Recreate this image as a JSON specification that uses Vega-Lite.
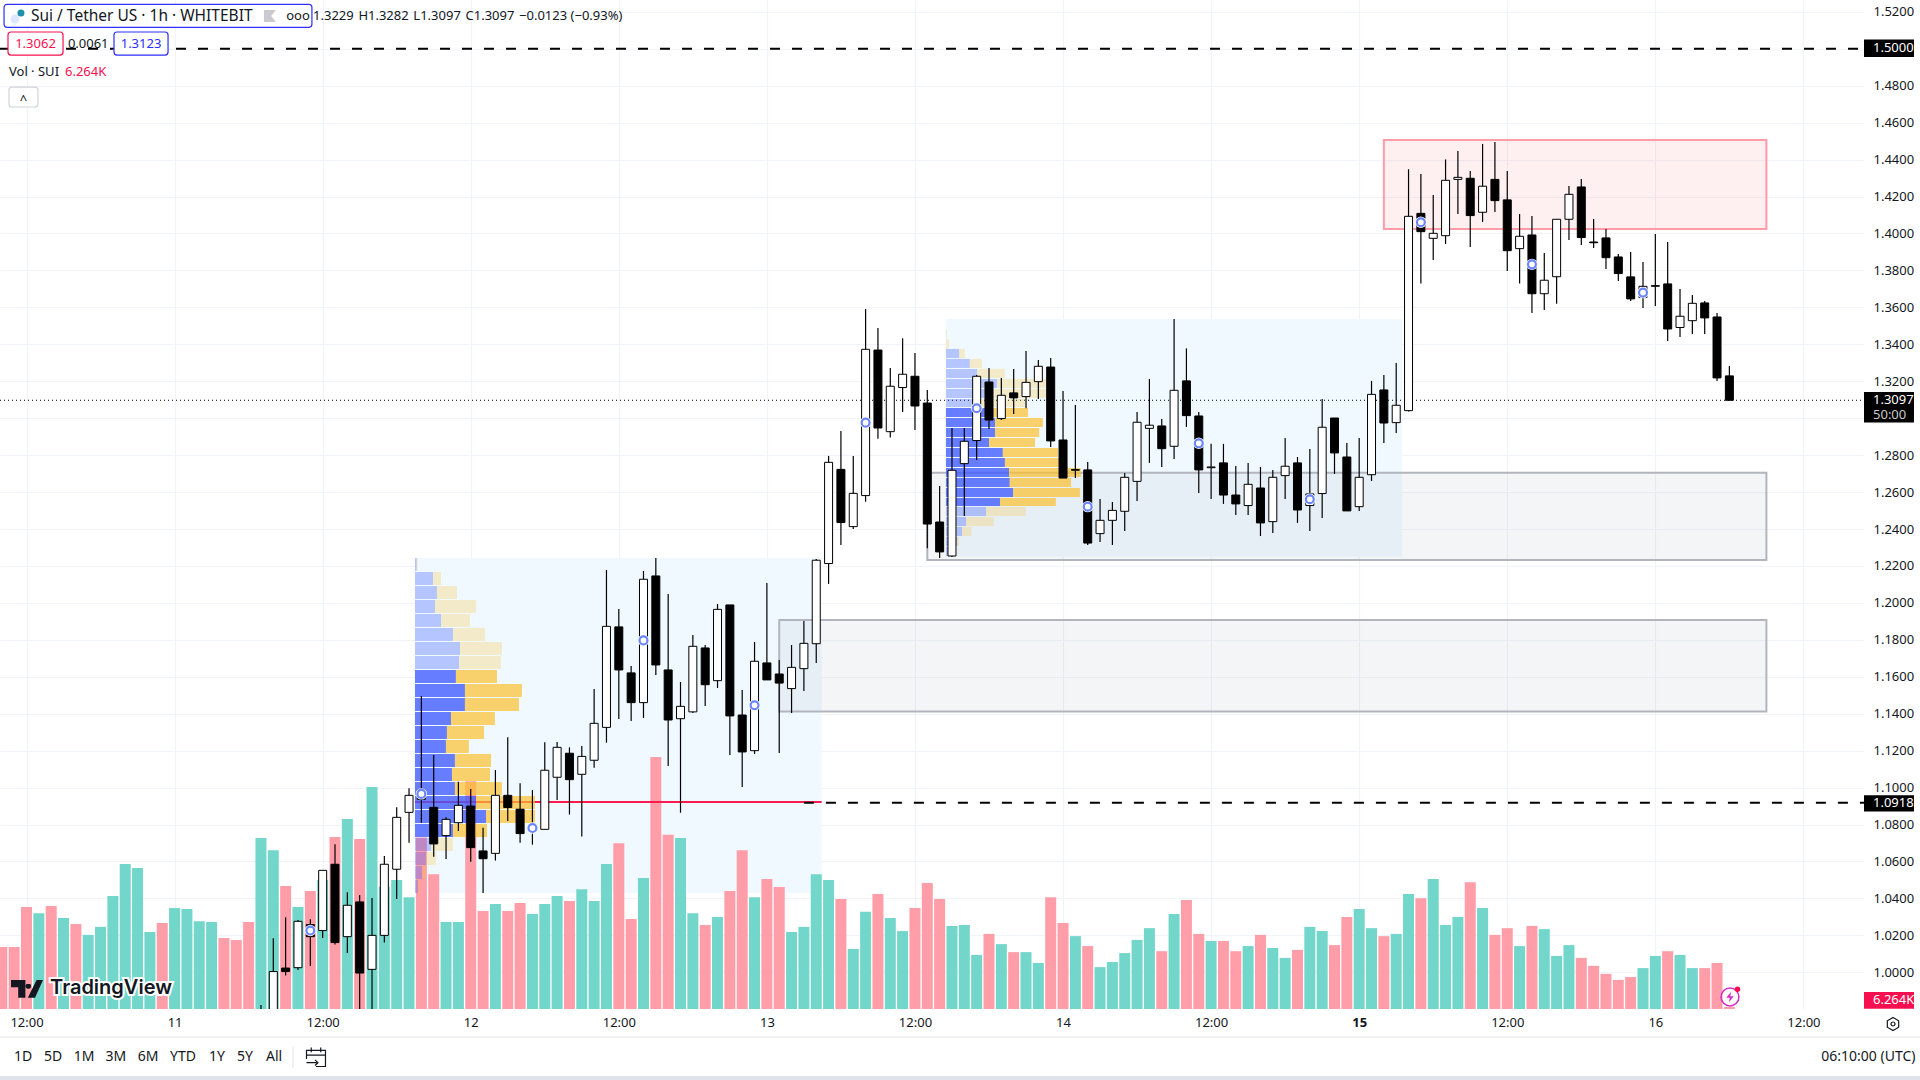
{
  "$schema": "https://vega.github.io/schema/vega-lite/v6.json",
  "width": 1864,
  "height": 1009,
  "autosize": {"type": "none"},
  "padding": {"left": 0, "top": 0, "right": 56, "bottom": 71},
  "background": "#ffffff",
  "config": {
    "view": {"stroke": null},
    "font": "Noto Sans",
    "text": {"font": "Noto Sans"},
    "axis": {"labelFont": "Noto Sans", "labelColor": "#131722", "labelFontSize": 13, "title": null, "domain": false, "ticks": false, "gridColor": "#f0f3fa", "gridWidth": 1.2}
  },
  "datasets": {
    "candles": [
      {"hour":10,"volume":194,"side":"down"},{"hour":11,"volume":194,"side":"down"},{"hour":12,"volume":319,"side":"down"},{"hour":13,"volume":300,"side":"up"},{"hour":14,"volume":322,"side":"down"},{"hour":15,"volume":285,"side":"up"},{"hour":16,"volume":266,"side":"down"},{"hour":17,"volume":232,"side":"up"},{"hour":18,"volume":257,"side":"up"},{"hour":19,"volume":354,"side":"up"},{"hour":20,"volume":454,"side":"up"},{"hour":21,"volume":441,"side":"up"},{"hour":22,"volume":241,"side":"up"},{"hour":23,"volume":269,"side":"down"},{"hour":24,"volume":316,"side":"up"},{"hour":25,"volume":313,"side":"up"},{"hour":26,"volume":275,"side":"up"},{"hour":27,"volume":272,"side":"up"},{"hour":28,"volume":222,"side":"down"},{"hour":29,"volume":216,"side":"down"},{"hour":30,"volume":272,"side":"down"},
      {"hour":31,"volume":535,"side":"up","open":0.96,"high":0.9823,"low":0.95,"close":0.975},
      {"hour":32,"volume":497,"side":"up","open":0.975,"high":1.0184,"low":0.97,"close":1.0004},
      {"hour":33,"volume":385,"side":"down","open":1.0023,"high":1.0298,"low":0.9982,"close":1.0004},
      {"hour":34,"volume":319,"side":"up","open":1.0025,"high":1.0283,"low":1.0013,"close":1.0276},
      {"hour":35,"volume":369,"side":"down","open":1.0258,"high":1.0287,"low":1.0034,"close":1.0193},
      {"hour":36,"volume":404,"side":"up","open":1.0226,"high":1.0552,"low":1.0186,"close":1.0552},
      {"hour":37,"volume":538,"side":"down","open":1.0585,"high":1.0693,"low":1.015,"close":1.0161},
      {"hour":38,"volume":595,"side":"up","open":1.0193,"high":1.0433,"low":1.0105,"close":1.0363},
      {"hour":39,"volume":532,"side":"down","open":1.0381,"high":1.0419,"low":0.975,"close":0.9996},
      {"hour":40,"volume":695,"side":"up","open":1.0016,"high":1.0402,"low":0.975,"close":1.02},
      {"hour":41,"volume":383,"side":"up","open":1.02,"high":1.063,"low":1.0161,"close":1.0585},
      {"hour":42,"volume":404,"side":"up","open":1.0558,"high":1.0893,"low":1.0397,"close":1.0839},
      {"hour":43,"volume":350,"side":"up","open":1.0866,"high":1.0996,"low":1.0702,"close":1.0958},
      {"hour":44,"volume":537,"side":"down","open":1.0987,"high":1.1496,"low":1.081,"close":1.0937},
      {"hour":45,"volume":422,"side":"down","open":1.0893,"high":1.1177,"low":1.0626,"close":1.0695},
      {"hour":46,"volume":272,"side":"up","open":1.074,"high":1.0839,"low":1.0614,"close":1.0828},
      {"hour":47,"volume":272,"side":"up","open":1.081,"high":1.1032,"low":1.0765,"close":1.0904},
      {"hour":48,"volume":713,"side":"down","open":1.09,"high":1.0993,"low":1.0599,"close":1.0675},
      {"hour":49,"volume":307,"side":"down","open":1.0657,"high":1.0783,"low":1.043,"close":1.0615},
      {"hour":50,"volume":329,"side":"up","open":1.0644,"high":1.1095,"low":1.0605,"close":1.0958},
      {"hour":51,"volume":307,"side":"down","open":1.0958,"high":1.1272,"low":1.0819,"close":1.0892},
      {"hour":52,"volume":332,"side":"down","open":1.0883,"high":1.1023,"low":1.0702,"close":1.0751},
      {"hour":53,"volume":297,"side":"up","open":1.0765,"high":1.0987,"low":1.0691,"close":1.0798},
      {"hour":54,"volume":329,"side":"up","open":1.0774,"high":1.1245,"low":1.0774,"close":1.1094},
      {"hour":55,"volume":354,"side":"up","open":1.1056,"high":1.1247,"low":1.0933,"close":1.1218},
      {"hour":56,"volume":338,"side":"down","open":1.1186,"high":1.1218,"low":1.0854,"close":1.1043},
      {"hour":57,"volume":375,"side":"up","open":1.1072,"high":1.1225,"low":1.0735,"close":1.1169},
      {"hour":58,"volume":338,"side":"up","open":1.1148,"high":1.1534,"low":1.1108,"close":1.1348},
      {"hour":59,"volume":454,"side":"up","open":1.1326,"high":1.2178,"low":1.1243,"close":1.1873},
      {"hour":60,"volume":519,"side":"down","open":1.187,"high":1.1967,"low":1.1372,"close":1.1637},
      {"hour":61,"volume":282,"side":"down","open":1.1621,"high":1.1659,"low":1.1361,"close":1.146},
      {"hour":62,"volume":410,"side":"up","open":1.146,"high":1.2173,"low":1.1377,"close":1.2128},
      {"hour":63,"volume":789,"side":"down","open":1.2146,"high":1.2243,"low":1.161,"close":1.1664},
      {"hour":64,"volume":545,"side":"down","open":1.1637,"high":1.2048,"low":1.1117,"close":1.1366},
      {"hour":65,"volume":535,"side":"up","open":1.1373,"high":1.1572,"low":1.0864,"close":1.144},
      {"hour":66,"volume":300,"side":"up","open":1.141,"high":1.1826,"low":1.1404,"close":1.1765},
      {"hour":67,"volume":263,"side":"down","open":1.1756,"high":1.1772,"low":1.1442,"close":1.1557},
      {"hour":68,"volume":288,"side":"up","open":1.1579,"high":1.1994,"low":1.1539,"close":1.1965},
      {"hour":69,"volume":369,"side":"down","open":1.1989,"high":1.1989,"low":1.1177,"close":1.1388},
      {"hour":70,"volume":497,"side":"down","open":1.1393,"high":1.1529,"low":1.1003,"close":1.1193},
      {"hour":71,"volume":350,"side":"up","open":1.12,"high":1.1788,"low":1.1182,"close":1.1684},
      {"hour":72,"volume":407,"side":"down","open":1.1675,"high":1.2108,"low":1.1583,"close":1.1583},
      {"hour":73,"volume":382,"side":"down","open":1.1615,"high":1.1691,"low":1.1187,"close":1.1566},
      {"hour":74,"volume":241,"side":"up","open":1.1536,"high":1.1772,"low":1.1404,"close":1.1651},
      {"hour":75,"volume":257,"side":"up","open":1.1644,"high":1.1902,"low":1.1523,"close":1.1781},
      {"hour":76,"volume":422,"side":"up","open":1.1779,"high":1.2238,"low":1.1675,"close":1.2231},
      {"hour":77,"volume":404,"side":"up","open":1.2213,"high":1.2796,"low":1.2103,"close":1.2761},
      {"hour":78,"volume":344,"side":"down","open":1.2723,"high":1.2931,"low":1.2314,"close":1.2435},
      {"hour":79,"volume":188,"side":"up","open":1.2413,"high":1.2796,"low":1.24,"close":1.2593},
      {"hour":80,"volume":304,"side":"up","open":1.2581,"high":1.3591,"low":1.2548,"close":1.3373},
      {"hour":81,"volume":360,"side":"down","open":1.3369,"high":1.3489,"low":1.2889,"close":1.2947},
      {"hour":82,"volume":285,"side":"up","open":1.2927,"high":1.3272,"low":1.2895,"close":1.3173},
      {"hour":83,"volume":244,"side":"up","open":1.3166,"high":1.3433,"low":1.3034,"close":1.3238},
      {"hour":84,"volume":316,"side":"down","open":1.3227,"high":1.3353,"low":1.2936,"close":1.3066},
      {"hour":85,"volume":394,"side":"down","open":1.3082,"high":1.3153,"low":1.2296,"close":1.2427},
      {"hour":86,"volume":344,"side":"down","open":1.2438,"high":1.2633,"low":1.2243,"close":1.2276},
      {"hour":87,"volume":260,"side":"up","open":1.2254,"high":1.2947,"low":1.2249,"close":1.2718},
      {"hour":88,"volume":263,"side":"up","open":1.2754,"high":1.2947,"low":1.2471,"close":1.2875},
      {"hour":89,"volume":169,"side":"up","open":1.2879,"high":1.3234,"low":1.2774,"close":1.3227},
      {"hour":90,"volume":235,"side":"down","open":1.3196,"high":1.3272,"low":1.2942,"close":1.299},
      {"hour":91,"volume":203,"side":"up","open":1.2998,"high":1.3218,"low":1.299,"close":1.3124},
      {"hour":92,"volume":178,"side":"down","open":1.3137,"high":1.3267,"low":1.3023,"close":1.311},
      {"hour":93,"volume":178,"side":"up","open":1.3117,"high":1.3364,"low":1.3054,"close":1.3194},
      {"hour":94,"volume":144,"side":"up","open":1.3198,"high":1.3315,"low":1.3104,"close":1.3281},
      {"hour":95,"volume":350,"side":"down","open":1.3277,"high":1.3326,"low":1.2844,"close":1.2877},
      {"hour":96,"volume":269,"side":"down","open":1.2882,"high":1.3147,"low":1.2676,"close":1.2676},
      {"hour":97,"volume":228,"side":"up","open":1.2718,"high":1.3072,"low":1.2676,"close":1.2722},
      {"hour":98,"volume":197,"side":"down","open":1.272,"high":1.2763,"low":1.2314,"close":1.2324},
      {"hour":99,"volume":131,"side":"up","open":1.2375,"high":1.2563,"low":1.233,"close":1.2447},
      {"hour":100,"volume":147,"side":"up","open":1.2447,"high":1.2546,"low":1.2314,"close":1.2501},
      {"hour":101,"volume":175,"side":"up","open":1.2496,"high":1.2703,"low":1.2389,"close":1.268},
      {"hour":102,"volume":216,"side":"up","open":1.2658,"high":1.3034,"low":1.2552,"close":1.2978},
      {"hour":103,"volume":253,"side":"up","open":1.2945,"high":1.3212,"low":1.2758,"close":1.2962},
      {"hour":104,"volume":181,"side":"down","open":1.2958,"high":1.2996,"low":1.2736,"close":1.2835},
      {"hour":105,"volume":297,"side":"up","open":1.2848,"high":1.3537,"low":1.2779,"close":1.3151},
      {"hour":106,"volume":341,"side":"down","open":1.3202,"high":1.3378,"low":1.2953,"close":1.3014},
      {"hour":107,"volume":235,"side":"down","open":1.3012,"high":1.3034,"low":1.2595,"close":1.272},
      {"hour":108,"volume":213,"side":"up","open":1.2732,"high":1.2861,"low":1.2563,"close":1.2736},
      {"hour":109,"volume":213,"side":"down","open":1.2758,"high":1.2861,"low":1.2536,"close":1.2584},
      {"hour":110,"volume":181,"side":"down","open":1.2584,"high":1.2741,"low":1.2476,"close":1.2536},
      {"hour":111,"volume":197,"side":"up","open":1.2527,"high":1.2758,"low":1.2476,"close":1.2642},
      {"hour":112,"volume":232,"side":"down","open":1.2622,"high":1.2736,"low":1.2362,"close":1.2433},
      {"hour":113,"volume":191,"side":"up","open":1.244,"high":1.272,"low":1.2379,"close":1.268},
      {"hour":114,"volume":160,"side":"up","open":1.2689,"high":1.2893,"low":1.2563,"close":1.274},
      {"hour":115,"volume":185,"side":"down","open":1.2758,"high":1.279,"low":1.2433,"close":1.2503},
      {"hour":116,"volume":257,"side":"up","open":1.2527,"high":1.2833,"low":1.2389,"close":1.259},
      {"hour":117,"volume":244,"side":"up","open":1.2592,"high":1.3104,"low":1.246,"close":1.2951},
      {"hour":118,"volume":200,"side":"down","open":1.3001,"high":1.3001,"low":1.2698,"close":1.2812},
      {"hour":119,"volume":288,"side":"down","open":1.279,"high":1.2866,"low":1.2498,"close":1.2498},
      {"hour":120,"volume":313,"side":"up","open":1.2521,"high":1.2893,"low":1.2498,"close":1.268},
      {"hour":121,"volume":253,"side":"up","open":1.2694,"high":1.3202,"low":1.266,"close":1.3129},
      {"hour":122,"volume":228,"side":"down","open":1.3153,"high":1.3234,"low":1.2866,"close":1.2974},
      {"hour":123,"volume":235,"side":"up","open":1.2976,"high":1.3299,"low":1.292,"close":1.307},
      {"hour":124,"volume":360,"side":"up","open":1.3041,"high":1.4348,"low":1.3036,"close":1.4093},
      {"hour":125,"volume":347,"side":"down","open":1.4109,"high":1.4322,"low":1.3729,"close":1.401},
      {"hour":126,"volume":407,"side":"up","open":1.3974,"high":1.4209,"low":1.3857,"close":1.4001},
      {"hour":127,"volume":263,"side":"up","open":1.3988,"high":1.4401,"low":1.3943,"close":1.4288},
      {"hour":128,"volume":288,"side":"up","open":1.4293,"high":1.4447,"low":1.4106,"close":1.4304},
      {"hour":129,"volume":397,"side":"down","open":1.4299,"high":1.4338,"low":1.3927,"close":1.4097},
      {"hour":130,"volume":316,"side":"up","open":1.4115,"high":1.4485,"low":1.4062,"close":1.4256},
      {"hour":131,"volume":232,"side":"down","open":1.4293,"high":1.4496,"low":1.4117,"close":1.4178},
      {"hour":132,"volume":253,"side":"down","open":1.4182,"high":1.4338,"low":1.3797,"close":1.3907},
      {"hour":133,"volume":197,"side":"up","open":1.3918,"high":1.4106,"low":1.3729,"close":1.3985},
      {"hour":134,"volume":260,"side":"down","open":1.3992,"high":1.4095,"low":1.357,"close":1.3674},
      {"hour":135,"volume":250,"side":"up","open":1.3674,"high":1.3895,"low":1.3586,"close":1.3747},
      {"hour":136,"volume":166,"side":"up","open":1.3766,"high":1.4077,"low":1.3619,"close":1.4077},
      {"hour":137,"volume":200,"side":"up","open":1.4077,"high":1.4257,"low":1.3965,"close":1.4212},
      {"hour":138,"volume":160,"side":"down","open":1.4252,"high":1.4295,"low":1.3938,"close":1.3978},
      {"hour":139,"volume":135,"side":"down","open":1.3954,"high":1.4079,"low":1.3922,"close":1.395},
      {"hour":140,"volume":110,"side":"down","open":1.3976,"high":1.4025,"low":1.3808,"close":1.3869},
      {"hour":141,"volume":91,"side":"down","open":1.3873,"high":1.3889,"low":1.3743,"close":1.3783},
      {"hour":142,"volume":100,"side":"down","open":1.3765,"high":1.39,"low":1.3635,"close":1.3646},
      {"hour":143,"volume":128,"side":"up","open":1.3653,"high":1.3846,"low":1.3597,"close":1.3714},
      {"hour":144,"volume":166,"side":"up","open":1.3714,"high":1.3997,"low":1.3607,"close":1.3718},
      {"hour":145,"volume":181,"side":"down","open":1.3727,"high":1.3954,"low":1.3418,"close":1.3483},
      {"hour":146,"volume":169,"side":"up","open":1.3491,"high":1.37,"low":1.344,"close":1.3552},
      {"hour":147,"volume":128,"side":"up","open":1.3528,"high":1.3667,"low":1.3456,"close":1.3622},
      {"hour":148,"volume":128,"side":"down","open":1.3624,"high":1.3635,"low":1.3456,"close":1.3543},
      {"hour":149,"volume":144,"side":"down","open":1.3548,"high":1.357,"low":1.3202,"close":1.3218},
      {"hour":150,"volume":6.264,"side":"down","open":1.3229,"high":1.3282,"low":1.3097,"close":1.3097}
    ],
    "profile": [
      {"hour":43.48,"upEnd":43.62,"downEnd":43.7,"price":1.2173,"priceEnd":1.2243,"area":"out"},
      {"hour":43.48,"upEnd":44.94,"downEnd":45.59,"price":1.2097,"priceEnd":1.2167,"area":"out"},
      {"hour":43.48,"upEnd":45.26,"downEnd":46.88,"price":1.2021,"priceEnd":1.2091,"area":"out"},
      {"hour":43.48,"upEnd":45.1,"downEnd":48.43,"price":1.1945,"priceEnd":1.2016,"area":"out"},
      {"hour":43.48,"upEnd":45.59,"downEnd":47.94,"price":1.187,"priceEnd":1.194,"area":"out"},
      {"hour":43.48,"upEnd":46.56,"downEnd":49.16,"price":1.1794,"priceEnd":1.1864,"area":"out"},
      {"hour":43.48,"upEnd":47.13,"downEnd":50.53,"price":1.1718,"priceEnd":1.1788,"area":"out"},
      {"hour":43.48,"upEnd":47.05,"downEnd":50.45,"price":1.1642,"priceEnd":1.1712,"area":"out"},
      {"hour":43.48,"upEnd":46.8,"downEnd":50.13,"price":1.1566,"priceEnd":1.1637,"area":"in"},
      {"hour":43.48,"upEnd":47.53,"downEnd":52.15,"price":1.1491,"priceEnd":1.1561,"area":"in"},
      {"hour":43.48,"upEnd":47.53,"downEnd":51.91,"price":1.1415,"priceEnd":1.1485,"area":"in"},
      {"hour":43.48,"upEnd":46.4,"downEnd":49.96,"price":1.1339,"priceEnd":1.1409,"area":"in"},
      {"hour":43.48,"upEnd":46.07,"downEnd":49.08,"price":1.1263,"priceEnd":1.1333,"area":"in"},
      {"hour":43.48,"upEnd":45.99,"downEnd":47.85,"price":1.1187,"priceEnd":1.1258,"area":"in"},
      {"hour":43.48,"upEnd":46.72,"downEnd":49.64,"price":1.1112,"priceEnd":1.1182,"area":"in"},
      {"hour":43.48,"upEnd":46.48,"downEnd":49.56,"price":1.1036,"priceEnd":1.1106,"area":"in"},
      {"hour":43.48,"upEnd":46.72,"downEnd":50.53,"price":1.096,"priceEnd":1.103,"area":"in"},
      {"hour":43.48,"upEnd":48.43,"downEnd":53.21,"price":1.0884,"priceEnd":1.0954,"area":"in"},
      {"hour":43.48,"upEnd":49.24,"downEnd":53.21,"price":1.0808,"priceEnd":1.0879,"area":"in"},
      {"hour":43.48,"upEnd":46.56,"downEnd":49.32,"price":1.0733,"priceEnd":1.0803,"area":"in"},
      {"hour":43.48,"upEnd":44.78,"downEnd":46.56,"price":1.0657,"priceEnd":1.0727,"area":"out"},
      {"hour":43.48,"upEnd":44.37,"downEnd":45.18,"price":1.0581,"priceEnd":1.0651,"area":"out"},
      {"hour":43.48,"upEnd":44.05,"downEnd":44.37,"price":1.0505,"priceEnd":1.0575,"area":"out"},
      {"hour":43.48,"upEnd":43.72,"downEnd":43.88,"price":1.0429,"priceEnd":1.05,"area":"out"},
      {"hour":86.51,"upEnd":86.52,"downEnd":86.59,"price":1.3433,"priceEnd":1.3481,"area":"out"},
      {"hour":86.51,"upEnd":86.52,"downEnd":86.75,"price":1.3378,"priceEnd":1.3427,"area":"out"},
      {"hour":86.51,"upEnd":87.58,"downEnd":88.04,"price":1.3326,"priceEnd":1.3375,"area":"out"},
      {"hour":86.51,"upEnd":88.44,"downEnd":89.43,"price":1.3272,"priceEnd":1.3321,"area":"out"},
      {"hour":86.51,"upEnd":89.04,"downEnd":91.29,"price":1.3218,"priceEnd":1.3267,"area":"out"},
      {"hour":86.51,"upEnd":90.66,"downEnd":94.66,"price":1.3164,"priceEnd":1.3212,"area":"out"},
      {"hour":86.51,"upEnd":90.23,"downEnd":94.66,"price":1.311,"priceEnd":1.3158,"area":"out"},
      {"hour":86.51,"upEnd":89.24,"downEnd":92.97,"price":1.306,"priceEnd":1.3104,"area":"out"},
      {"hour":86.51,"upEnd":90.36,"downEnd":93.17,"price":1.3007,"priceEnd":1.3055,"area":"in"},
      {"hour":86.51,"upEnd":90.49,"downEnd":94.36,"price":1.2953,"priceEnd":1.3001,"area":"in"},
      {"hour":86.51,"upEnd":90.49,"downEnd":94.07,"price":1.2898,"priceEnd":1.2947,"area":"in"},
      {"hour":86.51,"upEnd":90,"downEnd":93.73,"price":1.2844,"priceEnd":1.2893,"area":"in"},
      {"hour":86.51,"upEnd":91.12,"downEnd":95.59,"price":1.279,"priceEnd":1.2839,"area":"in"},
      {"hour":86.51,"upEnd":91.29,"downEnd":95.72,"price":1.2736,"priceEnd":1.2785,"area":"in"},
      {"hour":86.51,"upEnd":91.62,"downEnd":97.44,"price":1.2682,"priceEnd":1.2731,"area":"in"},
      {"hour":86.51,"upEnd":91.68,"downEnd":96.65,"price":1.2628,"priceEnd":1.2676,"area":"in"},
      {"hour":86.51,"upEnd":91.95,"downEnd":97.37,"price":1.2574,"priceEnd":1.2622,"area":"in"},
      {"hour":86.51,"upEnd":90.89,"downEnd":95.42,"price":1.2525,"priceEnd":1.2568,"area":"in"},
      {"hour":86.51,"upEnd":89.76,"downEnd":92.97,"price":1.2471,"priceEnd":1.2519,"area":"out"},
      {"hour":86.51,"upEnd":88.14,"downEnd":90.39,"price":1.2416,"priceEnd":1.2465,"area":"out"},
      {"hour":86.51,"upEnd":87.81,"downEnd":88.57,"price":1.2362,"priceEnd":1.2411,"area":"out"},
      {"hour":86.51,"upEnd":87.42,"downEnd":87.58,"price":1.2308,"priceEnd":1.2357,"area":"out"},
      {"hour":86.51,"upEnd":86.92,"downEnd":86.99,"price":1.2254,"priceEnd":1.2303,"area":"out"}
    ],
    "signals": [
      {"hour":35,"price":1.0226},{"hour":44,"price":1.0966},{"hour":53,"price":1.0781},{"hour":62,"price":1.1797},{"hour":71,"price":1.1446},{"hour":80,"price":1.2976},{"hour":89,"price":1.3054},{"hour":98,"price":1.2521},{"hour":107,"price":1.2864},{"hour":116,"price":1.2561},{"hour":125,"price":1.4061},{"hour":134,"price":1.3833},{"hour":143,"price":1.368}
    ],
    "tagBoxes": [
      {"hour":160.91,"hourEnd":164.96,"price":1.4956,"priceEnd":1.5051,"tone":"black"},
      {"hour":160.91,"hourEnd":164.96,"price":1.087,"priceEnd":1.0958,"tone":"black"},
      {"hour":160.91,"hourEnd":164.96,"price":1.2977,"priceEnd":1.3142,"tone":"black"},
      {"hour":160.91,"hourEnd":164.96,"price":0.9803,"priceEnd":0.9893,"tone":"red"}
    ],
    "tagLabels": [
      {"hour":161.64,"price":1.5002,"label":"1.5000","tone":"white"},
      {"hour":161.64,"price":1.0915,"label":"1.0918","tone":"white"},
      {"hour":161.64,"price":1.3099,"label":"1.3097","tone":"white"},
      {"hour":161.64,"price":1.3017,"label":"50:00","tone":"grey"},
      {"hour":161.64,"price":0.9848,"label":"6.264K","tone":"white"},
      {"hour":35.22,"price":1.5178,"label":"1.3229 \u200aH1.3282 \u200aL1.3097 \u200aC1.3097 \u200a−0.0123 (−0.93%)","tone":"ink"},
      {"hour":10.58,"price":1.4874,"label":"Vol · SUI","tone":"ink"},
      {"hour":15.12,"price":1.4874,"label":"6.264K","tone":"red"}
    ],
    "headerBoxes": [
      {"hour":10.18,"hourEnd":35.13,"price":1.5116,"priceEnd":1.5241,"tone":"blue"},
      {"hour":10.5,"hourEnd":14.96,"price":1.4966,"priceEnd":1.5091,"tone":"red"},
      {"hour":19.09,"hourEnd":23.47,"price":1.4966,"priceEnd":1.5091,"tone":"blue"},
      {"hour":10.58,"hourEnd":12.93,"price":1.4685,"priceEnd":1.4793,"tone":"line"}
    ],
    "centerLabels": [
      {"hour":12.73,"price":1.5026,"label":"1.3062","tone":"red"},
      {"hour":17,"price":1.5026,"label":"0.0061","tone":"ink"},
      {"hour":21.28,"price":1.5026,"label":"1.3123","tone":"blue"},
      {"hour":11.76,"price":1.4725,"label":"^","tone":"ink"},
      {"hour":34,"price":1.5178,"label":"ooo","tone":"ink"}
    ],
    "toolbar": [
      {"hour":11.72,"price":0.95414,"label":"1D"},{"hour":14.15,"price":0.95414,"label":"5D"},{"hour":16.66,"price":0.95414,"label":"1M"},{"hour":19.25,"price":0.95414,"label":"3M"},{"hour":21.85,"price":0.95414,"label":"6M"},{"hour":24.68,"price":0.95414,"label":"YTD"},{"hour":27.44,"price":0.95414,"label":"1Y"},{"hour":29.71,"price":0.95414,"label":"5Y"},{"hour":32.06,"price":0.95414,"label":"All"}
    ]
  },
  "encoding": {
    "x": {
      "field": "hour",
      "type": "quantitative",
      "scale": {"domain": [9.852, 160.91], "nice": false, "zero": false, "padding": 0},
      "axis": {
        "values": [12,24,36,48,60,72,84,96,108,120,132,144,156],
        "labelExpr": "datum.value % 24 == 12 ? '12:00' : '' + (10 + datum.value / 24)",
        "labelFontWeight": {"condition": {"test": "datum.value == 120", "value": "bold"}, "value": "normal"},
        "labelPadding": 7,
        "labelOverlap": false,
        "labelBound": false,
        "labelFlush": false
      }
    }
  },
  "resolve": {"scale": {"y": "independent", "color": "independent", "fill": "independent", "stroke": "independent", "opacity": "independent"}},
  "layer": [
    {
      "resolve": {"scale": {"color": "independent", "fill": "independent", "stroke": "independent"}},
      "encoding": {
        "y": {
          "field": "price",
          "type": "quantitative",
          "scale": {"domain": [0.98013, 1.52642], "nice": false, "zero": false},
          "axis": {
            "orient": "right",
            "values": [1,1.02,1.04,1.06,1.08,1.1,1.12,1.14,1.16,1.18,1.2,1.22,1.24,1.26,1.28,1.3,1.32,1.34,1.36,1.38,1.4,1.42,1.44,1.46,1.48,1.5,1.52],
            "labelExpr": "datum.value == 1.3 || datum.value == 1.5 ? '' : format(datum.value, '.4f')",
            "labelPadding": 9,
            "labelOverlap": false,
            "labelBound": false
          }
        },
        "x2": {"field": "hourEnd"},
        "y2": {"field": "priceEnd"}
      },
      "layer": [
        {
          "data": {"values": [
            {"hour":43.48,"hourEnd":76.44,"price":1.0429,"priceEnd":1.2243},
            {"hour":86.51,"hourEnd":123.46,"price":1.225,"priceEnd":1.3537}
          ]},
          "mark": {"type": "rect", "color": "#f0f9ff"}
        },
        {
          "data": {"values": [
            {"hour":85,"hourEnd":153,"price":1.2232,"priceEnd":1.2705,"zone":"grey"},
            {"hour":73,"hourEnd":153,"price":1.1412,"priceEnd":1.1908,"zone":"grey"},
            {"hour":122,"hourEnd":153,"price":1.4024,"priceEnd":1.4506,"zone":"red"}
          ]},
          "mark": {"type": "rect", "strokeWidth": 2, "fillOpacity": 0.08},
          "encoding": {
            "fill": {"field": "zone", "type": "nominal", "scale": {"domain": ["grey","red"], "range": ["#787b86","#f23645"]}, "legend": null},
            "stroke": {"field": "zone", "type": "nominal", "scale": {"domain": ["grey","red"], "range": ["#b2b5be","#ff9ca8"]}, "legend": null}
          }
        }
      ]
    },
    {
      "data": {"name": "candles"},
      "mark": {"type": "bar", "width": 11, "orient": "vertical"},
      "encoding": {
        "y": {"field": "volume", "type": "quantitative", "stack": null, "scale": {"domain": [0, 3158], "nice": false}, "axis": null},
        "color": {"field": "side", "type": "nominal", "scale": {"domain": ["up","down"], "range": ["#72d6ca","#ff9da8"]}, "legend": null}
      }
    },
    {
      "resolve": {"scale": {"color": "independent", "fill": "independent", "stroke": "independent", "opacity": "independent"}},
      "encoding": {
        "y": {
          "field": "price",
          "type": "quantitative",
          "scale": {"domain": [0.98013, 1.52642], "nice": false, "zero": false},
          "axis": null
        }
      },
      "layer": [
        {
          "data": {"values": [{"hour":43.48,"hourEnd":76.44,"price":1.0922}]},
          "mark": {"type": "rule", "color": "#ff1a50", "strokeWidth": 2},
          "encoding": {"x2": {"field": "hourEnd"}}
        },
        {
          "data": {"values": [
            {"hour":75,"hourEnd":160.91,"price":1.0918},
            {"hour":9.852,"hourEnd":160.91,"price":1.5}
          ]},
          "mark": {"type": "rule", "color": "#000000", "strokeWidth": 2, "strokeDash": [10, 12]},
          "encoding": {"x2": {"field": "hourEnd"}}
        },
        {
          "data": {"values": [{"hour":9.852,"hourEnd":160.91,"price":1.3097}]},
          "mark": {"type": "rule", "color": "#000000", "strokeWidth": 1, "strokeDash": [1, 3]},
          "encoding": {"x2": {"field": "hourEnd"}}
        },
        {
          "data": {"name": "profile"},
          "mark": {"type": "rect", "color": "#3d5afe"},
          "encoding": {
            "x2": {"field": "upEnd"},
            "y2": {"field": "priceEnd"},
            "opacity": {"field": "area", "type": "nominal", "scale": {"domain": ["in","out"], "range": [0.78, 0.33]}, "legend": null}
          }
        },
        {
          "data": {"name": "profile"},
          "mark": {"type": "rect", "color": "#fbc02d"},
          "encoding": {
            "x": {"field": "upEnd", "type": "quantitative"},
            "x2": {"field": "downEnd"},
            "y2": {"field": "priceEnd"},
            "opacity": {"field": "area", "type": "nominal", "scale": {"domain": ["in","out"], "range": [0.7, 0.25]}, "legend": null}
          }
        },
        {
          "data": {"name": "candles"},
          "transform": [{"filter": "isValid(datum.open)"}],
          "mark": {"type": "rule", "color": "#000000", "strokeWidth": 1.2, "clip": true},
          "encoding": {"y": {"field": "low", "type": "quantitative"}, "y2": {"field": "high"}}
        },
        {
          "data": {"name": "candles"},
          "transform": [{"filter": "isValid(datum.open)"}],
          "mark": {"type": "bar", "width": 8, "orient": "vertical", "stroke": "#000000", "strokeWidth": 1, "clip": true},
          "encoding": {
            "y": {"field": "open", "type": "quantitative", "stack": null},
            "y2": {"field": "close"},
            "fill": {"field": "side", "type": "nominal", "scale": {"domain": ["up","down"], "range": ["#ffffff","#000000"]}, "legend": null}
          }
        },
        {
          "data": {"name": "signals"},
          "mark": {"type": "point", "shape": "circle", "filled": true, "color": "#ffffff", "size": 130, "opacity": 1}
        },
        {
          "data": {"name": "signals"},
          "mark": {"type": "point", "shape": "circle", "filled": false, "fill": "#ffffff", "stroke": "#6a85ff", "strokeWidth": 2.2, "size": 62, "opacity": 1}
        },
        {
          "data": {"name": "headerBoxes"},
          "mark": {"type": "rect", "fill": "#ffffff", "strokeWidth": 1.2, "cornerRadius": 3},
          "encoding": {
            "x2": {"field": "hourEnd"},
            "y2": {"field": "priceEnd"},
            "stroke": {"field": "tone", "type": "nominal", "scale": {"domain": ["blue","red","line"], "range": ["#2e2eff","#f7104f","#d1d4dc"]}, "legend": null}
          }
        },
        {
          "data": {"values": [{"hour":31.73,"price":1.5178}]},
          "mark": {"type": "point", "filled": true, "color": "#c9cbd0", "opacity": 1, "size": 144, "shape": "M-1,-1 H1 L0.2,0 L1,1 H-1 Z"}
        },
        {
          "data": {"values": [{"hour":11.07,"price":1.5161}]},
          "mark": {"type": "point", "shape": "circle", "filled": true, "color": "#dbe8ff", "opacity": 1, "size": 80}
        },
        {
          "data": {"values": [{"hour":11.55,"price":1.5194}]},
          "mark": {"type": "point", "shape": "circle", "filled": true, "color": "#1d8fa8", "opacity": 1, "size": 50}
        },
        {
          "data": {"name": "tagBoxes"},
          "mark": {"type": "rect", "opacity": 1},
          "encoding": {
            "x2": {"field": "hourEnd"},
            "y2": {"field": "priceEnd"},
            "fill": {"field": "tone", "type": "nominal", "scale": {"domain": ["black","red"], "range": ["#000000","#f7104f"]}, "legend": null}
          }
        },
        {
          "data": {"name": "tagLabels"},
          "mark": {"type": "text", "align": "left", "baseline": "middle", "fontSize": 13},
          "encoding": {
            "text": {"field": "label"},
            "color": {"field": "tone", "type": "nominal", "scale": {"domain": ["white","grey","ink","red","blue"], "range": ["#ffffff","#c8c8c8","#131722","#f7104f","#2e2eff"]}, "legend": null}
          }
        },
        {
          "data": {"name": "centerLabels"},
          "mark": {"type": "text", "align": "center", "baseline": "middle", "fontSize": 13},
          "encoding": {
            "text": {"field": "label"},
            "color": {"field": "tone", "type": "nominal", "scale": {"domain": ["white","grey","ink","red","blue"], "range": ["#ffffff","#c8c8c8","#131722","#f7104f","#2e2eff"]}, "legend": null}
          }
        },
        {
          "data": {"values": [{"hour":12.36,"price":1.5178,"label":"Sui / Tether US · 1h · WHITEBIT"}]},
          "mark": {"type": "text", "align": "left", "baseline": "middle", "fontSize": 15.5, "color": "#131722"},
          "encoding": {"text": {"field": "label"}}
        },
        {
          "data": {"values": [{"hour":13.91,"price":0.9915,"label":"TradingView"}]},
          "mark": {"type": "text", "align": "left", "baseline": "middle", "fontSize": 20, "font": "Inter", "fontWeight": 600, "stroke": "#ffffff", "strokeWidth": 4, "color": "#ffffff"},
          "encoding": {"text": {"field": "label"}}
        },
        {
          "data": {"values": [{"hour":13.91,"price":0.9915,"label":"TradingView"}]},
          "mark": {"type": "text", "align": "left", "baseline": "middle", "fontSize": 20, "font": "Inter", "fontWeight": 600, "color": "#131722"},
          "encoding": {"text": {"field": "label"}}
        },
        {
          "data": {"values": [{"hour":12.04,"price":0.991}]},
          "mark": {"type": "point", "filled": true, "color": "#131722", "opacity": 1, "size": 1024, "shape": "M-1,-0.55 H-0.1 V0.55 H-0.55 V-0.1 H-1 Z M0.6,-0.55 H1 L0.5,0.55 H0.05 Z M0.2,-0.3 A0.17,0.17 0 1 1 -0.02,-0.31 Z"}
        },
        {
          "data": {"values": [{"hour":150.05,"price":0.98663}]},
          "mark": {"type": "point", "shape": "circle", "filled": false, "stroke": "#d42ac6", "strokeWidth": 1.5, "opacity": 1, "size": 320}
        },
        {
          "data": {"values": [{"hour":150.05,"price":0.98663}]},
          "mark": {"type": "point", "filled": true, "color": "#d42ac6", "opacity": 1, "size": 110, "shape": "M0.2,-1 L-0.7,0.15 H-0.05 L-0.2,1 L0.7,-0.15 H0.05 Z"}
        },
        {
          "data": {"values": [{"hour":150.66,"price":0.9908}]},
          "mark": {"type": "point", "shape": "circle", "filled": true, "color": "#f7104f", "opacity": 1, "size": 30}
        },
        {
          "data": {"values": [{"hour":9.852,"hourEnd":165.44,"price":0.96497}]},
          "mark": {"type": "rule", "color": "#e0e3eb", "strokeWidth": 1.2},
          "encoding": {"x2": {"field": "hourEnd"}}
        },
        {
          "data": {"values": [{"hour":33.6,"price":0.94819,"priceEnd":0.96009}]},
          "mark": {"type": "rule", "color": "#e0e3eb", "strokeWidth": 1},
          "encoding": {"y2": {"field": "priceEnd"}}
        },
        {
          "data": {"values": [{"hour":9.852,"hourEnd":165.44,"price":0.94168,"priceEnd":0.94385}]},
          "mark": {"type": "rect", "color": "#e0e3eb"},
          "encoding": {"x2": {"field": "hourEnd"}, "y2": {"field": "priceEnd"}}
        },
        {
          "data": {"name": "toolbar"},
          "mark": {"type": "text", "align": "center", "baseline": "middle", "fontSize": 14, "color": "#131722"},
          "encoding": {"text": {"field": "label"}}
        },
        {
          "data": {"values": [{"hour":165.08,"price":0.95414,"label":"06:10:00 (UTC)"}]},
          "mark": {"type": "text", "align": "right", "baseline": "middle", "fontSize": 14, "color": "#131722"},
          "encoding": {"text": {"field": "label"}}
        },
        {
          "data": {"values": [{"hour":35.46,"price":0.95414}]},
          "mark": {"type": "point", "filled": false, "stroke": "#131722", "strokeWidth": 1.2, "opacity": 1, "size": 360, "shape": "M0,1 H1 V-0.7 H-1 V0.2 M-1,-0.2 H1 M-0.5,-1 V-0.5 M0.5,-1 V-0.5 M-1,0.6 H0.2 M-0.1,0.3 L0.2,0.6 L-0.1,0.9"}
        },
        {
          "data": {"values": [{"hour":163.26,"price":0.97201}]},
          "mark": {"type": "point", "filled": false, "stroke": "#131722", "strokeWidth": 1.2, "opacity": 1, "size": 170, "shape": "M0,-1 L0.87,-0.5 V0.5 L0,1 L-0.87,0.5 V-0.5 Z"}
        },
        {
          "data": {"values": [{"hour":163.26,"price":0.97201}]},
          "mark": {"type": "point", "shape": "circle", "filled": false, "stroke": "#131722", "strokeWidth": 1.2, "opacity": 1, "size": 16}
        }
      ]
    }
  ]
}
